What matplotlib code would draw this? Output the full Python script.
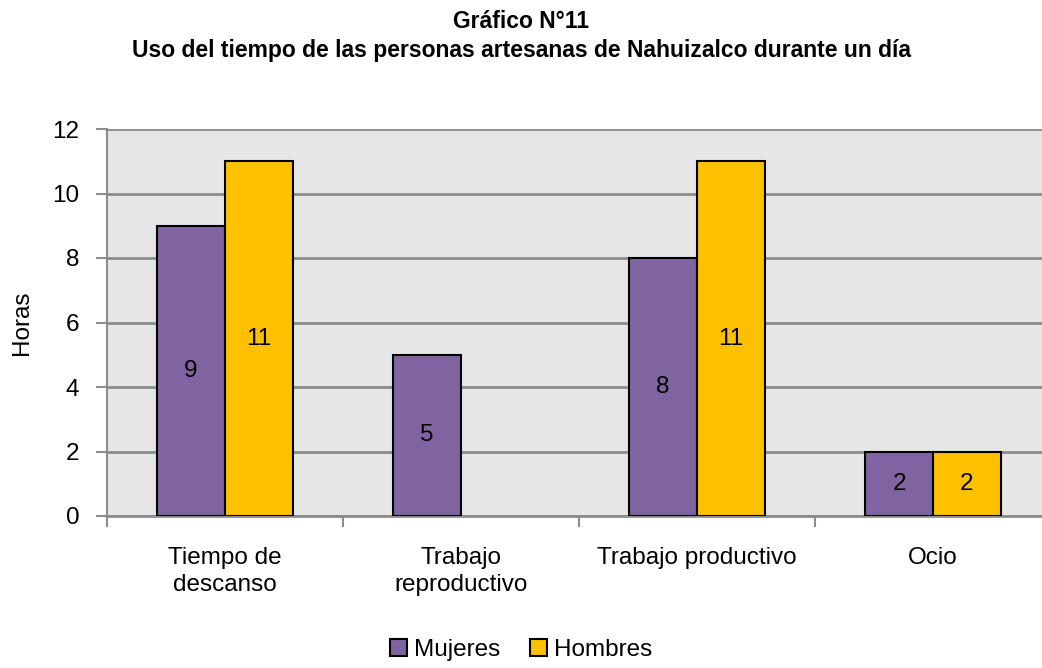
import numpy as np
import matplotlib.pyplot as plt

categories = ['Tiempo de\ndescanso', 'Trabajo\nreproductivo', 'Trabajo productivo', 'Ocio']
mujeres = [9, 5, 8, 2]
hombres = [11, 0, 11, 2]
yticks = [0, 2, 4, 6, 8, 10, 12]

plt.rcParams['font.family'] = ['Liberation Sans', 'DejaVu Sans']

fig = plt.figure(figsize=(10.42, 6.68), dpi=100)
ax = fig.add_axes([107 / 1042, 1 - 516 / 668, 944 / 1042, 387 / 668])
ax.set_facecolor('#e6e6e6')

x = np.arange(len(categories))
w = 0.288
b1 = ax.bar(x - w / 2, mujeres, w, color='#8064a2', edgecolor='black', linewidth=1.5, label='Mujeres', zorder=3)
b2 = ax.bar(x + w / 2, hombres, w, color='#ffc000', edgecolor='black', linewidth=1.5, label='Hombres', zorder=3)
for bars, vals in ((b1, mujeres), (b2, hombres)):
    for r, v in zip(bars, vals):
        if v > 0:
            ax.text(r.get_x() + r.get_width() / 2, v / 2, str(v), ha='center', va='center',
                    fontsize=17.5, zorder=4)
        else:
            r.set_linewidth(0)

ax.set_xlim(-0.5, 3.5)
ax.set_ylim(0, 12)
ax.set_yticks(yticks)
ax.tick_params(axis='y', labelsize=17.5, length=8, color='#8c8c8c', width=1.5, pad=12)
ax.yaxis.grid(True, color='#8c8c8c', linewidth=2, zorder=0)
ax.set_xticks(x)
ax.set_xticklabels(categories, fontsize=17.5, linespacing=1.3)
ax.tick_params(axis='x', length=0, pad=22)
ax.set_xticks(np.arange(-0.5, 4, 1), minor=True)
ax.tick_params(axis='x', which='minor', length=8, color='#8c8c8c', width=1.5)
for s in ('top', 'right'):
    ax.spines[s].set_visible(False)
ax.spines['left'].set_color('#8c8c8c')
ax.spines['left'].set_linewidth(1.5)
ax.spines['bottom'].set_color('#8c8c8c')
ax.spines['bottom'].set_linewidth(2)
ax.set_ylabel('Horas', fontsize=17.5, labelpad=14)

fig.text(0.5, 1 - 22 / 668, 'Gráfico N°11', ha='center', va='center', fontsize=16.5, fontweight='bold')
fig.text(0.5, 1 - 51 / 668, 'Uso del tiempo de las personas artesanas de Nahuizalco durante un día',
         ha='center', va='center', fontsize=16.5, fontweight='bold')

fig.legend(handles=[b1, b2], loc='center', bbox_to_anchor=(0.5, 1 - 650 / 668), ncol=2, frameon=False,
           fontsize=17.5, handlelength=0.7, handleheight=0.7, handletextpad=0.3, columnspacing=1.2)

fig.savefig('out.png', dpi=100)
